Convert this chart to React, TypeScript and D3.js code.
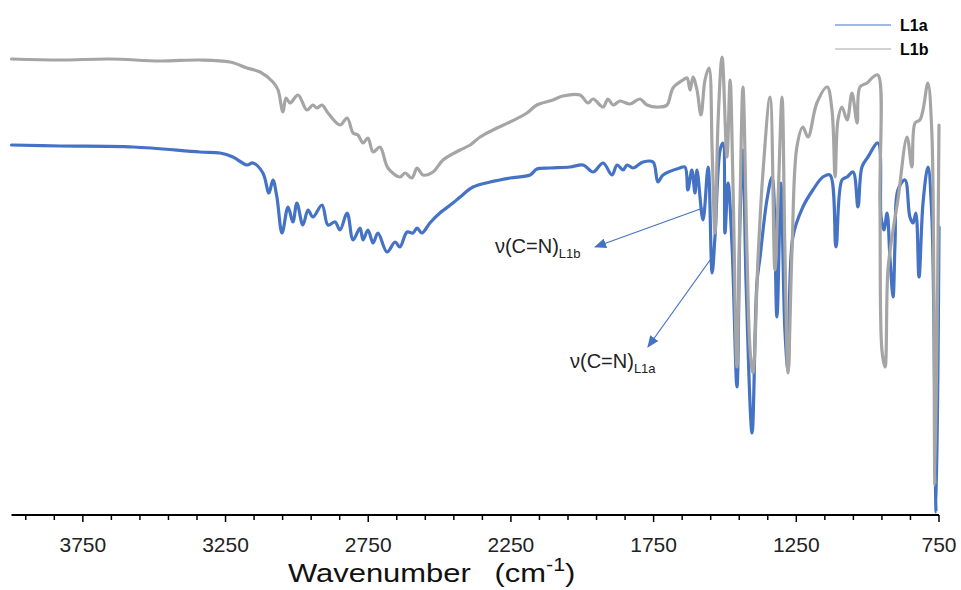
import React from 'react';
import * as d3 from 'd3';

// wavenumber (cm-1) and transmittance (%)
const l1aWave = [4000, 3830, 3574, 3340, 3269, 3224, 3175, 3154, 3119, 3098, 3084, 3070, 3052, 3031, 3014, 3000, 2979, 2961, 2944, 2912, 2891, 2866, 2849, 2824, 2803, 2779, 2768, 2751, 2733, 2716, 2684, 2656, 2639, 2614, 2593, 2579, 2562, 2534, 2499, 2453, 2428, 2383, 2323, 2253, 2183, 2159, 2113, 2043, 1997, 1962, 1927, 1896, 1878, 1857, 1843, 1822, 1787, 1752, 1735, 1717, 1658, 1640, 1630, 1616, 1605, 1598, 1577, 1559, 1545, 1535, 1517, 1507, 1500, 1489, 1475, 1458, 1447, 1437, 1426, 1405, 1388, 1377, 1353, 1335, 1318, 1304, 1290, 1279, 1262, 1227, 1192, 1157, 1132, 1111, 1090, 1072, 1051, 1034, 1020, 999, 964, 953, 943, 932, 922, 911, 904, 894, 869, 852, 841, 831, 820, 806, 789, 775, 760, 750];
const l1aT = [74, 73.8, 73.6, 72.6, 72.4, 71.6, 70, 70.4, 68.4, 64.4, 67, 63.6, 56.4, 61.6, 58.6, 62.4, 58, 61, 59.6, 62, 58, 58.6, 57, 60.4, 55, 57.4, 55, 57, 54.4, 56.4, 52.6, 54.6, 53.6, 56.6, 56.4, 57.4, 56.4, 58.4, 60.4, 62.4, 63.6, 65.6, 66.6, 67.4, 68, 69.2, 69.4, 69.6, 70, 68.6, 70.4, 68, 70, 69, 70, 69.4, 70.6, 70.6, 66.6, 68, 69.4, 69.6, 65, 69, 64.4, 69, 59, 69.6, 48.4, 55.6, 73, 74.4, 56.4, 66.4, 53.6, 25.6, 59.6, 73, 46.4, 16.4, 46.4, 51.6, 63, 67.6, 39.6, 66.4, 37, 29, 55.6, 61.6, 65, 67.6, 68, 53.6, 67, 67.6, 68.6, 61.6, 69.6, 71.6, 74.4, 59.6, 57, 60.4, 51.6, 43.6, 54.4, 65, 67, 59.6, 58.4, 60.4, 47.6, 62.4, 69.6, 59.6, 0.6, 57.6];

const l1bWave = [4000, 3830, 3655, 3480, 3340, 3234, 3175, 3129, 3084, 3066, 3049, 3038, 3024, 2996, 2965, 2944, 2930, 2912, 2891, 2849, 2824, 2803, 2786, 2768, 2751, 2733, 2709, 2681, 2639, 2621, 2597, 2579, 2558, 2523, 2488, 2428, 2393, 2358, 2313, 2253, 2194, 2159, 2103, 2068, 2008, 1980, 1962, 1927, 1910, 1892, 1868, 1833, 1798, 1773, 1728, 1703, 1682, 1647, 1633, 1622, 1612, 1598, 1584, 1570, 1556, 1545, 1535, 1524, 1510, 1493, 1482, 1472, 1458, 1447, 1437, 1423, 1412, 1402, 1384, 1367, 1342, 1325, 1314, 1300, 1290, 1279, 1265, 1248, 1227, 1209, 1178, 1142, 1125, 1114, 1104, 1090, 1072, 1055, 1037, 1027, 1002, 981, 964, 957, 950, 939, 929, 911, 894, 862, 845, 834, 817, 806, 789, 775, 764, 750];
const l1bT = [91.2, 91, 91.2, 90.8, 91, 90.6, 89.4, 88.6, 86.6, 85, 80.6, 83.4, 82.4, 84, 81, 82, 81.4, 82, 80.4, 78, 79.4, 76.4, 76, 74.4, 75.4, 72.6, 73.6, 69.4, 67.6, 68.4, 67.4, 69.4, 68, 68.6, 71, 73, 74, 75.6, 77, 78.6, 80.4, 82, 83, 83.8, 84, 82.4, 83.2, 81.6, 83.2, 82, 82.8, 82.2, 83.2, 82, 81.6, 82, 85.4, 87, 87.4, 85, 87.6, 85, 80, 87, 89.4, 73, 56.4, 79, 91.6, 71.6, 87, 66.4, 29.6, 63, 85.6, 53, 33, 28.4, 51.6, 68.4, 83.6, 49, 63, 83.6, 53, 28.4, 53, 73.6, 77.6, 75.6, 82.4, 85.6, 81, 67.6, 79, 81.6, 79, 84.4, 78.4, 85.6, 86.4, 87.6, 88, 63, 33, 29.6, 49, 57, 63, 75.6, 69.6, 78.4, 79, 81, 86.4, 76.4, 6, 78];

const series = [
  { name: 'L1a', wave: l1aWave, t: l1aT, color: '#4472C4' },
  { name: 'L1b', wave: l1bWave, t: l1bT, color: '#A5A5A5' },
];

const tickValues = d3.range(750, 4000, 100);
const tickLabels = [3750, 3250, 2750, 2250, 1750, 1250, 750];

// annotations: arrow from peak to label, in data units
const notes = [
  { sub: 'L1b', from: [1577, 61.4], to: [1955, 53.6], text: [2306, 52.4] },
  { sub: 'L1a', from: [1552, 51], to: [1770, 33.6], text: [2043, 29.4] },
];

const W = 961;
const H = 590;

const App = () => {
  const x = d3.scaleLinear().domain([4000, 750]).range([11.5, 939]);
  const y = d3.scaleLinear().domain([0, 100]).range([515, 15]);
  const axisY = y(0);

  const line = d3.line<[number, number]>()
    .x(d => x(d[0]))
    .y(d => y(d[1]))
    .curve(d3.curveCatmullRom.alpha(0.5));

  const font = 'Liberation Sans, Arial, sans-serif';

  return (
    <svg width={W} height={H} style={{ position: 'absolute', left: 0, top: 0, background: '#fff' }}>
      <defs>
        <marker id="arrow" viewBox="0 0 12 10" refX="11" refY="5" markerWidth="12" markerHeight="10"
          markerUnits="userSpaceOnUse" orient="auto">
          <path d="M0,0 L12,5 L0,10 Z" fill="#4472C4" />
        </marker>
      </defs>

      {series.map(s => (
        <path key={s.name}
          d={line(s.wave.map((w, i) => [w, s.t[i]] as [number, number])) || ''}
          fill="none" stroke={s.color} strokeWidth={3.2} strokeLinejoin="round" strokeLinecap="round" />
      ))}

      {/* x axis */}
      <line x1={x(4000)} x2={x(750)} y1={axisY} y2={axisY} stroke="#000" strokeWidth={2} />
      {tickValues.map(v => (
        <line key={v} x1={x(v)} x2={x(v)} y1={axisY} y2={axisY + ((v - 750) % 500 === 0 ? 7 : 5)}
          stroke="#000" strokeWidth={1.5} />
      ))}
      {tickLabels.map(v => (
        <text key={v} x={x(v)} y={552} textAnchor="middle" fontFamily={font}
          fontSize={21} fill="#222">{v}</text>
      ))}
      <text transform="translate(288,582) scale(1.19,1)" fontFamily={font} fontSize={26} fill="#111">
        Wavenumber
        <tspan dx={20}>(cm</tspan>
        <tspan fontSize={18} dy={-11}>-1</tspan>
        <tspan dy={11}>)</tspan>
      </text>

      {/* annotations */}
      {notes.map(n => (
        <g key={n.sub}>
          <line x1={x(n.from[0])} y1={y(n.from[1])} x2={x(n.to[0])} y2={y(n.to[1])}
            stroke="#4472C4" strokeWidth={1.2} markerEnd="url(#arrow)" />
          <text x={x(n.text[0])} y={y(n.text[1])} fontFamily={font} fontSize={20} fill="#222">
            ν(C=N)<tspan fontSize={13} dy={5}>{n.sub}</tspan>
          </text>
        </g>
      ))}

      {/* legend */}
      {series.map((s, i) => (
        <g key={s.name} transform={`translate(835,${25 + i * 24})`}>
          <line x1={0} x2={56} y1={0} y2={0} stroke={s.color} strokeWidth={1} />
          <text x={65} y={6} fontFamily={font} fontWeight="bold" fontSize={16} fill="#000">{s.name}</text>
        </g>
      ))}
    </svg>
  );
};

export default App;
